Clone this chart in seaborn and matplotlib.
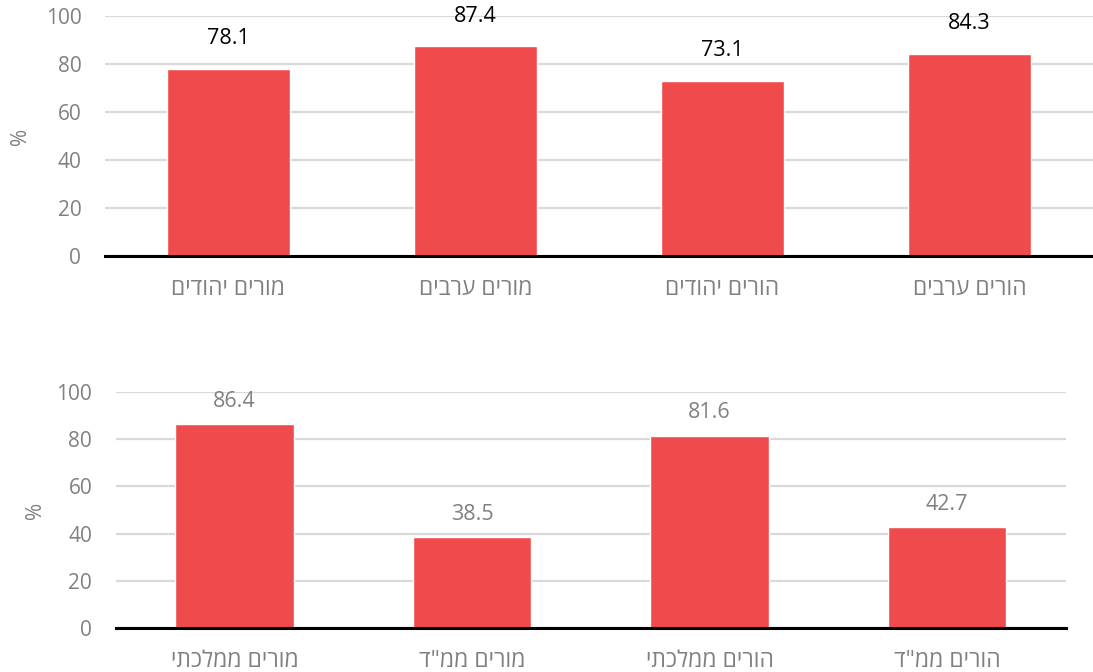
import pandas as pd
import matplotlib
matplotlib.use("Agg")
import matplotlib.pyplot as plt
import seaborn as sns

# data (Hebrew labels written in logical order, reversed for display below)
top_groups = ['מורים יהודים', 'מורים ערבים', 'הורים יהודים', 'הורים ערבים']
top_values = [78.1, 87.4, 73.1, 84.3]

bottom_groups = ['מורים ממלכתי', 'מורים ממ"ד', 'הורים ממלכתי', 'הורים ממ"ד']
bottom_values = [86.4, 38.5, 81.6, 42.7]

y_ticks = [0, 20, 40, 60, 80, 100]

BAR_COLOR = '#EF4B4D'
GRAY = '#808080'
GRID = '#D9D9D9'

sns.set_theme(style='white')
plt.rcParams['font.family'] = ['Open Sans', 'DejaVu Sans']


def rtl(s):
    # matplotlib has no bidi support: draw Hebrew in visual order
    return s[::-1]


def draw_panel(ax, groups, values, label_color, label_pad):
    df = pd.DataFrame({'group': [rtl(g) for g in groups], 'value': values})
    sns.barplot(data=df, x='group', y='value', color=BAR_COLOR, saturation=1,
                width=0.5, ax=ax, zorder=3)
    ax.set_ylim(0, 100)
    ax.set_xlim(-0.5, len(groups) - 0.5)
    ax.set_yticks(y_ticks)
    ax.yaxis.grid(True, color=GRID, linewidth=1.6, zorder=0)
    ax.set_axisbelow(True)
    for side in ['top', 'right', 'left']:
        ax.spines[side].set_visible(False)
    ax.spines['bottom'].set_color('black')
    ax.spines['bottom'].set_linewidth(2.2)
    ax.spines['bottom'].set_zorder(4)
    ax.tick_params(axis='y', colors=GRAY, labelsize=15, length=0, pad=17)
    ax.tick_params(axis='x', colors=GRAY, labelsize=16.5, length=0, pad=15)
    ax.set_xlabel('')
    ax.set_ylabel('%', color=GRAY, fontsize=15)
    ax.bar_label(ax.containers[0], fmt='%.1f', padding=label_pad,
                 color=label_color, fontsize=15.5)


fig = plt.figure(figsize=(10.93, 6.72), dpi=100)
ax_top = fig.add_axes([0.096, 0.619, 0.904, 0.357])
ax_bot = fig.add_axes([0.106, 0.0655, 0.869, 0.351])

draw_panel(ax_top, top_groups, top_values, 'black', 14)
draw_panel(ax_bot, bottom_groups, bottom_values, GRAY, 9)

ax_top.yaxis.set_label_coords(-0.075, 0.5)
ax_bot.yaxis.set_label_coords(-0.074, 0.5)

fig.savefig('out.png', dpi=100)
